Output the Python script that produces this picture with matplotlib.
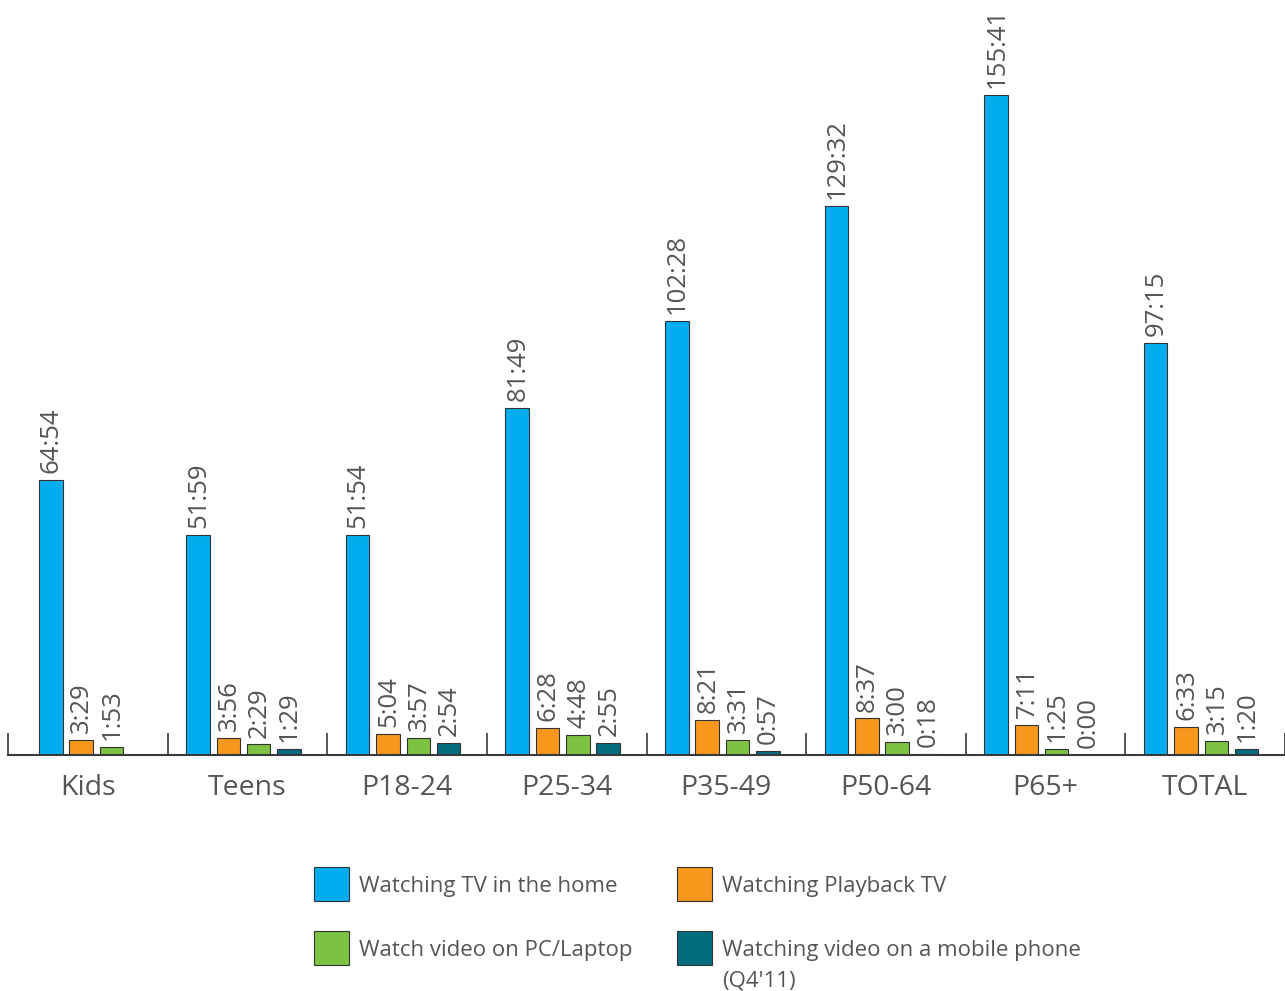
import matplotlib
matplotlib.use('Agg')
import matplotlib.pyplot as plt
from matplotlib.patches import Rectangle
import numpy as np

categories = ['Kids', 'Teens', 'P18-24', 'P25-34', 'P35-49', 'P50-64', 'P65+', 'TOTAL']
series_names = ['Watching TV in the home', 'Watching Playback TV',
                'Watch video on PC/Laptop', 'Watching video on a mobile phone\n(Q4\'11)']
tv_home = ['64:54', '51:59', '51:54', '81:49', '102:28', '129:32', '155:41', '97:15']
playback = ['3:29', '3:56', '5:04', '6:28', '8:21', '8:37', '7:11', '6:33']
pc_laptop = ['1:53', '2:29', '3:57', '4:48', '3:31', '3:00', '1:25', '3:15']
mobile = [None, '1:29', '2:54', '2:55', '0:57', '0:18', '0:00', '1:20']
colors = ['#00AEEF', '#F7981D', '#7DC242', '#006D7F']

plt.rcParams['font.family'] = ['Open Sans', 'DejaVu Sans']
text_color = '#555555'
line_color = '#3a3a3a'


def to_hours(s):
    # values are h:mm, missing -> 0
    if s is None:
        return 0.0
    h, m = s.split(':')
    return int(h) + int(m) / 60.0


W, H = 1285, 991
fig = plt.figure(figsize=(W / 100, H / 100), dpi=100)
ax = fig.add_axes([8 / W, (H - 755) / H, 1277 / W, 755 / H])

x = np.arange(len(categories))
step = 0.19
bar_w = 0.147
# the first group sits a bit to the right in the original
group_shift = np.array([0.078, 0, 0, 0, 0, 0, 0, 0])
all_series = [tv_home, playback, pc_laptop, mobile]

for i, (vals, col) in enumerate(zip(all_series, colors)):
    heights = [to_hours(v) for v in vals]
    pos = x + (i - 1.5) * step - 0.025 + group_shift
    ax.bar(pos, heights, width=bar_w, color=col, edgecolor='#333333', linewidth=0.8, zorder=2)
    for px, h, v in zip(pos, heights, vals):
        if v is None:
            continue
        ax.annotate(v, (px, h), xytext=(0.5, 5), textcoords='offset points',
                    rotation=90, ha='center', va='bottom', fontsize=18.5, color=text_color)

ax.set_xlim(-0.5, len(categories) - 0.5)
ax.set_ylim(0, 755 / (660 / to_hours('155:41')))

for s in ['left', 'right', 'top']:
    ax.spines[s].set_visible(False)
ax.spines['bottom'].set_color(line_color)
ax.spines['bottom'].set_linewidth(1.5)
ax.set_yticks([])

ax.set_xticks(x)
ax.set_xticklabels(categories, fontsize=20.5, color=text_color)
ax.tick_params(axis='x', which='major', length=0, pad=14)
ax.set_xticks(np.arange(len(categories) + 1) - 0.5, minor=True)
ax.tick_params(axis='x', which='minor', direction='in', length=16, width=1.2, color=line_color)

# legend drawn by hand, two columns
leg_x = [314, 677]
leg_y = [867, 931]
for i, (name, col) in enumerate(zip(series_names, colors)):
    lx = leg_x[i % 2]
    ly = leg_y[i // 2]
    fig.add_artist(Rectangle((lx / W, 1 - (ly + 34) / H), 35 / W, 34 / H,
                             facecolor=col, edgecolor='#333333', linewidth=0.8,
                             transform=fig.transFigure))
    for j, line in enumerate(name.split('\n')):
        fig.text((lx + 45) / W, 1 - (ly + 25 + j * 31) / H, line,
                 ha='left', va='baseline', fontsize=16, color=text_color)

fig.savefig('out.png', dpi=100)
